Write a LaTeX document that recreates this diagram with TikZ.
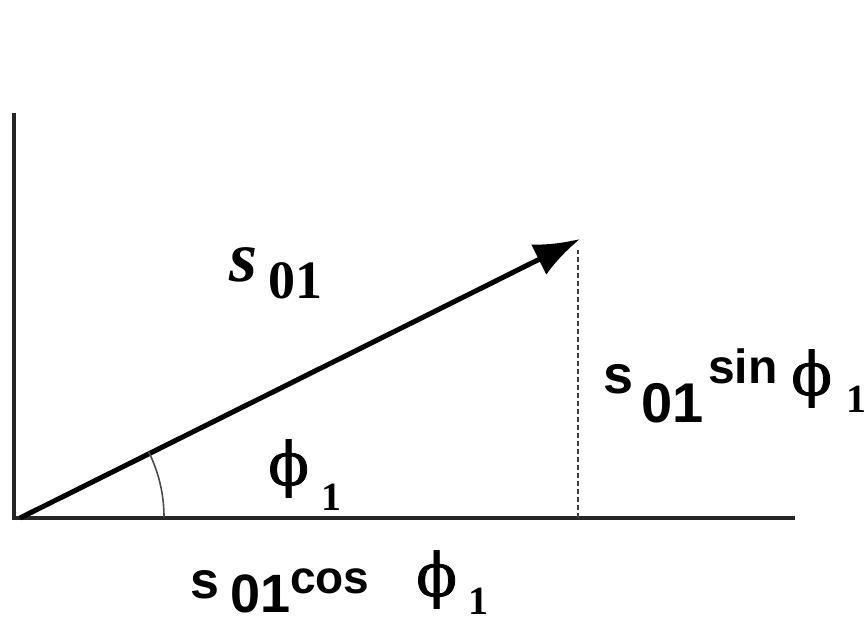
\documentclass[tikz,border=0pt]{standalone}
\usepackage{fontspec}
\setmainfont{Liberation Serif}
\newfontfamily\arialf{Liberation Sans}
\newfontfamily\phifont[FakeBold=1.3]{DejaVu Serif}
\usetikzlibrary{arrows.meta}
\begin{document}
\begin{tikzpicture}[x=1pt,y=-1pt,
  axisline/.style={line width=4pt,draw=black!85},
  vecline/.style={line width=5pt,draw=black,-{Latex[length=46pt,width=34pt]}},
  dropline/.style={line width=2pt,draw=black!75,dash pattern=on 5pt off 3pt},
  anglearc/.style={line width=1.6pt,draw=black!70},
  lbl/.style={inner sep=0pt,anchor=base west,text=black},
  phil/.style={lbl,font=\phifont\fontsize{60}{60}\selectfont},
  subone/.style={lbl,font=\fontsize{40}{40}\selectfont\bfseries}]
\useasboundingbox[fill=white] (0,0) rectangle (868,622);
\coordinate (O) at (14,518);
\coordinate (Ytop) at (14,113);
\coordinate (Xend) at (795,518);
\coordinate (A0) at (20,518);
\coordinate (P) at (580,239);
\coordinate (Pfoot) at (578,518);
\draw[axisline] (Ytop) -- (O) -- (Xend);
\draw[dropline] (Pfoot) -- (578,250);
\draw[vecline] (A0) -- (P);
\draw[anglearc] (164,517) arc[start angle=0,end angle=-26.5,radius=146];
% top label
\node[lbl] (s1) at (229,281) {\fontsize{72}{72}\selectfont\bfseries\itshape s};
\node[lbl] (s1i) at (268,298) {\fontsize{54}{54}\selectfont\bfseries 01};
% angle label
\node[phil] (ph) at (268,485) {ϕ};
\node[subone] (phi) at (321,510) {1};
% sin label
\node[lbl] (ss) at (603,393) {\arialf\fontsize{54}{54}\selectfont\bfseries s};
\node[lbl] (ssi) at (641,422) {\arialf\fontsize{56}{56}\selectfont\bfseries 01};
\node[lbl] (ssin) at (708,383) {\arialf\fontsize{48}{48}\selectfont\bfseries sin};
\node[phil] (sph) at (791,395) {ϕ};
\node[subone] (sphi) at (846,412) {1};
% cos label
\node[lbl] (cs) at (190,598) {\arialf\fontsize{52}{52}\selectfont\bfseries s};
\node[lbl] (csi) at (230,612) {\arialf\fontsize{54}{54}\selectfont\bfseries 01};
\node[lbl] (ccos) at (290,593) {\arialf\fontsize{46}{46}\selectfont\bfseries cos};
\node[phil] (cph) at (416,596) {ϕ};
\node[subone] (cphi) at (468,614) {1};
\end{tikzpicture}
\end{document}
